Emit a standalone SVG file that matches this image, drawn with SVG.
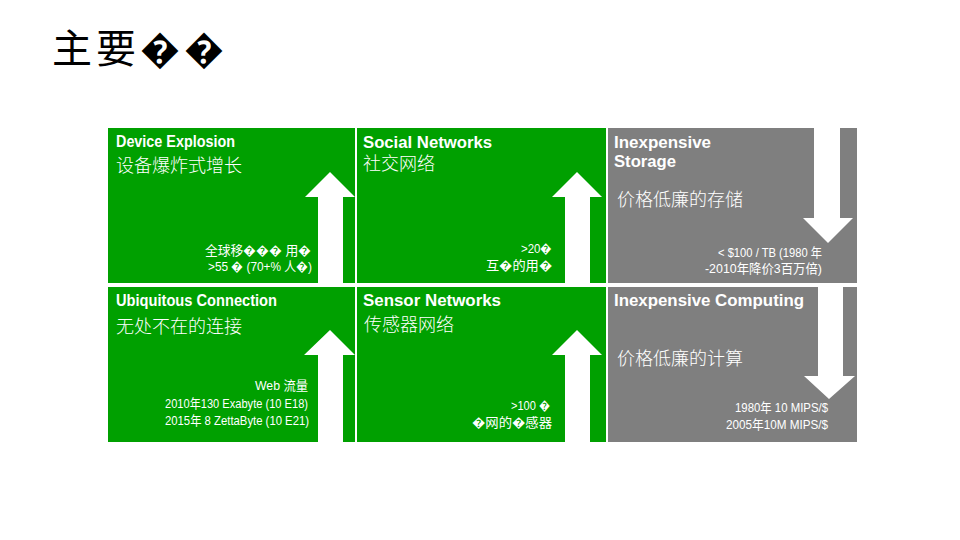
<svg xmlns="http://www.w3.org/2000/svg" width="960" height="540" viewBox="0 0 960 540">
<style>
.bg{fill:#ffffff}
.green{fill:#00A000}
.gray{fill:#7F7F7F}
.title{font-family:"Noto Sans CJK SC","Noto Sans CJK JP",sans-serif;font-size:40px;fill:#000000}
.head{font-family:"Liberation Sans","DejaVu Sans",sans-serif;font-weight:700;font-size:16px;fill:#ffffff}
.cjk{font-family:"Noto Sans CJK SC","Noto Sans CJK JP",sans-serif;font-weight:300;font-size:18px;fill:#ffffff}
.small{font-family:"Liberation Sans","Noto Sans CJK SC","Noto Sans CJK JP",sans-serif;font-size:13px;fill:#ffffff;text-anchor:end}
.arrow{fill:#ffffff}
</style>
<rect class="bg" x="0" y="0" width="960" height="540"/>
<text id="title" class="title" x="52" y="63" letter-spacing="4">主要��</text>

<g id="tile-device">
<rect class="green" x="108" y="128" width="247" height="155"/>
<text class="head" x="116" y="147" textLength="119" lengthAdjust="spacingAndGlyphs">Device Explosion</text>
<text class="cjk" x="116" y="172">设备爆炸式增长</text>
<text class="small" x="311" y="255" textLength="106" lengthAdjust="spacingAndGlyphs">全球移��� 用�</text>
<text class="small" x="312" y="271" textLength="104" lengthAdjust="spacingAndGlyphs">&gt;55 � (70+% 人�)</text>
</g>

<g id="tile-social">
<rect class="green" x="357" y="128" width="249" height="155"/>
<text class="head" x="363" y="148" textLength="129" lengthAdjust="spacingAndGlyphs">Social Networks</text>
<text class="cjk" x="363" y="170">社交网络</text>
<text class="small" x="552" y="253" textLength="31" lengthAdjust="spacingAndGlyphs">&gt;20�</text>
<text class="small" x="552" y="270" textLength="66" lengthAdjust="spacingAndGlyphs">互�的用�</text>
</g>

<g id="tile-storage">
<rect class="gray" x="608" y="128" width="249" height="155"/>
<text class="head" x="614" y="148" textLength="97" lengthAdjust="spacingAndGlyphs">Inexpensive</text>
<text class="head" x="614" y="167" textLength="62" lengthAdjust="spacingAndGlyphs">Storage</text>
<text class="cjk" x="617" y="206">价格低廉的存储</text>
<text class="small" x="822" y="257" textLength="104" lengthAdjust="spacingAndGlyphs">&lt; $100 / TB (1980 年</text>
<text class="small" x="822" y="273" textLength="117" lengthAdjust="spacingAndGlyphs">-2010年降价3百万倍)</text>
</g>

<g id="tile-ubiquitous">
<rect class="green" x="108" y="287" width="247" height="155"/>
<text class="head" x="116" y="306" textLength="161" lengthAdjust="spacingAndGlyphs">Ubiquitous Connection</text>
<text class="cjk" x="116" y="333">无处不在的连接</text>
<text class="small" x="308" y="390" textLength="53" lengthAdjust="spacingAndGlyphs">Web 流量</text>
<text class="small" x="308" y="408" textLength="143" lengthAdjust="spacingAndGlyphs">2010年130 Exabyte (10 E18)</text>
<text class="small" x="309" y="425" textLength="144" lengthAdjust="spacingAndGlyphs">2015年 8 ZettaByte (10 E21)</text>
</g>

<g id="tile-sensor">
<rect class="green" x="357" y="287" width="249" height="155"/>
<text class="head" x="363" y="306" textLength="138" lengthAdjust="spacingAndGlyphs">Sensor Networks</text>
<text class="cjk" x="364" y="331">传感器网络</text>
<text class="small" x="550" y="410" textLength="39" lengthAdjust="spacingAndGlyphs">&gt;100 �</text>
<text class="small" x="552" y="427" textLength="80" lengthAdjust="spacingAndGlyphs">�网的�感器</text>
</g>

<g id="tile-computing">
<rect class="gray" x="608" y="287" width="249" height="155"/>
<text class="head" x="614" y="306" textLength="190" lengthAdjust="spacingAndGlyphs">Inexpensive Computing</text>
<text class="cjk" x="617" y="365">价格低廉的计算</text>
<text class="small" x="828" y="412" textLength="93" lengthAdjust="spacingAndGlyphs">1980年 10 MIPS/$</text>
<text class="small" x="828" y="429" textLength="102" lengthAdjust="spacingAndGlyphs">2005年10M MIPS/$</text>
</g>

<g id="arrows">
<polygon class="arrow" points="318,283 318,197 305,197 330,172 355,197 343,197 343,283"/>
<polygon class="arrow" points="565,283 565,197 552,197 577,172 602,197 590,197 590,283"/>
<polygon class="arrow" points="814,128 840,128 840,218 853,218 828,243 803,218 814,218"/>
<polygon class="arrow" points="318,442 318,355 304,355 330,330 355,355 343,355 343,442"/>
<polygon class="arrow" points="565,442 565,355 552,355 577,330 602,355 590,355 590,442"/>
<polygon class="arrow" points="818,287 843,287 843,376 855,376 829,399 804,376 818,376"/>
</g>
</svg>
